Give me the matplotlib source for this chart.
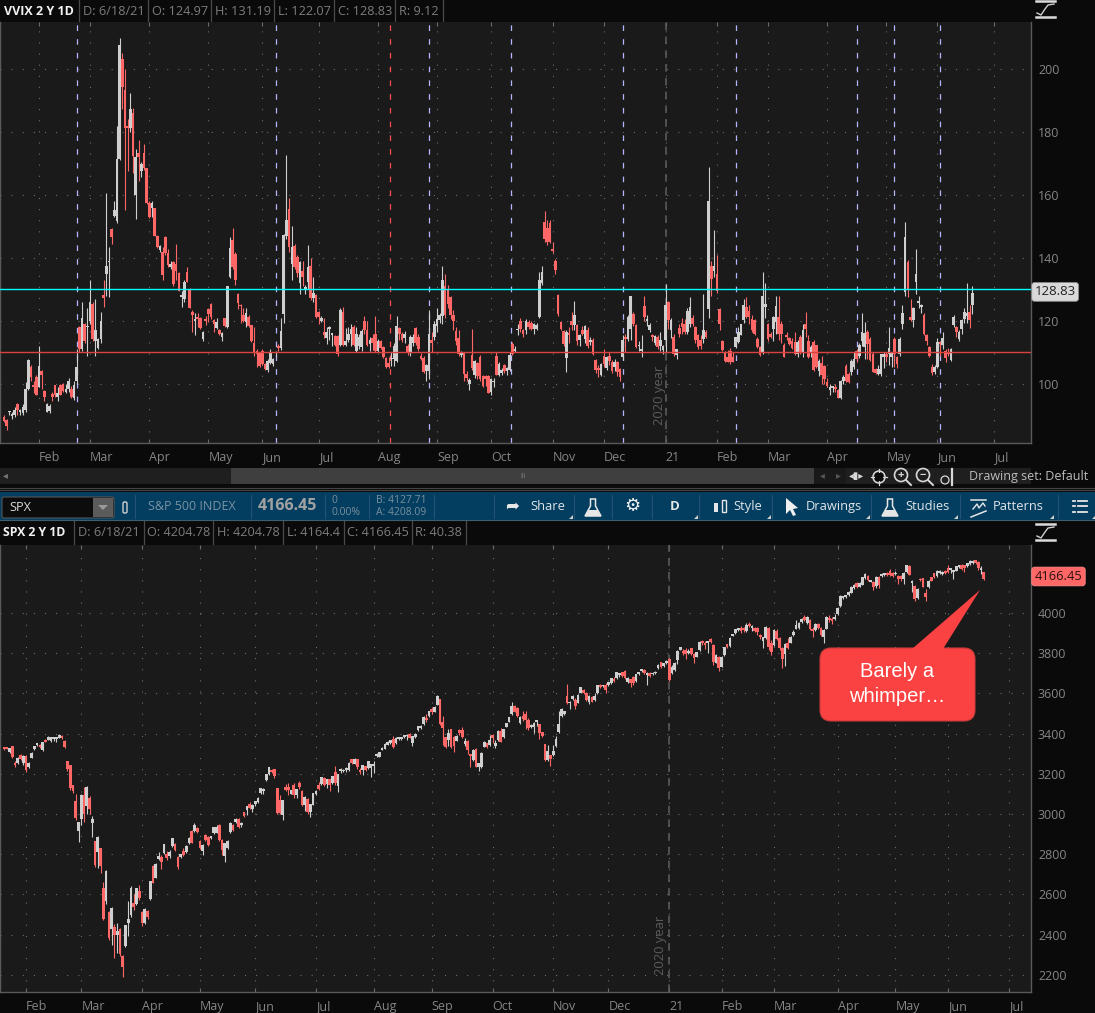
import matplotlib
matplotlib.use('Agg')
import matplotlib.pyplot as plt
from matplotlib.patches import Rectangle, Polygon, FancyBboxPatch, Circle

plt.rcParams['font.family'] = ['Open Sans', 'DejaVu Sans']

# VVIX daily candles
vvix_open = [
    89.6, 88.7, 91, 89.8, 90, 93.7, 91, 90.7, 91.8, 98.4,
    105.3, 99.7, 102.3, 99.2, 104.2, 97.7, 91.2, 91.5, 96.8, 99.7,
    96, 99.8, 100, 97.4, 98.4, 98.4, 95.5, 101, 118.2, 111,
    119, 118, 120, 125.4, 113.8, 111.3, 114.3, 128.2, 134.8, 138.6,
    149.2, 153.4, 151.6, 171.4, 203.2, 193.4, 182, 181.2, 186.1, 160.1,
    173.3, 167.7, 173.3, 168.5, 157.5, 156, 155.8, 147, 142.5, 142,
    146.7, 141.7, 137, 138.8, 138, 135.2, 127.6, 127, 135.7, 130,
    122.9, 120, 121.2, 120.8, 114.2, 120.2, 123.8, 125.4, 120.3, 117.7,
    117.1, 114.8, 120.9, 118, 134, 145.7, 141.3, 128.6, 125.2, 121.9,
    119.8, 121.2, 118.6, 112.9, 110.6, 109.7, 110.6, 106.3, 104.4, 106.6,
    106.3, 109.7, 112.2, 111.3, 122.1, 147, 155.6, 138, 143.8, 140.4,
    132, 136, 130.2, 132.5, 137.5, 127.2, 128.3, 122.9, 120.1, 116.4,
    114.6, 117.5, 115.5, 115.3, 115.3, 112.5, 123, 112.5, 114, 116,
    118.2, 110.4, 112, 111.6, 119.9, 117, 112.7, 114.5, 115.9, 110.6,
    113.5, 111.6, 108.3, 106.7, 107.8, 108, 107.2, 117.8, 115.9, 114.5,
    112.2, 110, 113, 117.8, 115, 109, 108.3, 104, 104.2, 114,
    115, 118.5, 120.2, 121.7, 131.2, 130, 127.5, 122, 116.7, 114.6,
    109.3, 109.7, 103.2, 100, 109.3, 103, 106.8, 108.7, 102.6, 102.6,
    102.6, 97.4, 100.5, 109, 103, 103.5, 106.1, 104, 104.4, 112.7,
    110.4, 117, 120, 117, 117, 119.8, 119.5, 117.5, 117.6, 121.4,
    132, 151.4, 149.5, 151.2, 142.7, 139, 128.1, 119.6, 116.7, 108.3,
    116, 120, 118.6, 118.6, 114, 117, 114.3, 117, 113.3, 114,
    107.6, 105, 103, 109, 105, 109, 106.9, 105.5, 106.9, 104.8,
    108.5, 115, 114.3, 117.5, 122.3, 118.6, 112, 110.6, 124.6, 120,
    117, 115.5, 113, 114.9, 112, 110.8, 114, 126, 117, 115,
    109.2, 117.8, 119.5, 119, 116.5, 119, 121, 118, 115.4, 114,
    114.3, 116.5, 123.7, 137.3, 135.8, 135, 123.7, 113.8, 110, 108.5,
    110.6, 108.6, 111.7, 113.3, 115.7, 120.2, 124.4, 123.3, 120.7, 120.2,
    114.3, 111.7, 110, 124.4, 118.9, 116, 117.5, 119.6, 121.4, 119,
    112.5, 115.7, 114.5, 113.6, 113.3, 109.5, 115, 110, 119, 113.8,
    109.8, 113.3, 112.3, 104.2, 106.8, 105.8, 100.5, 98, 98.8, 99.2,
    98, 95.6, 101, 105.7, 103.2, 103.7, 105.3, 110.6, 108.8, 113.5,
    111.8, 116.5, 114.3, 109.5, 104.7, 103.2, 103.2, 108.5, 109.5, 109.5,
    108.7, 114.3, 108.5, 109.5, 118.9, 129.2, 138.8, 121.4, 120.4, 132.4,
    125.7, 124.4, 122, 115.6, 111.9, 105.5, 103.7, 105.3, 113.3, 112.5,
    110.6, 110, 107.6, 118.6, 118, 114.3, 117.5, 120.7, 121.5, 122.8,
    124.97]
vvix_close = [
    88.4, 86.8, 91.2, 90.6, 91.8, 91.8, 91.6, 92.8, 98.5, 107.6,
    102.1, 99, 96.5, 105.8, 103, 96, 93.7, 93, 95.8, 96.6,
    97.1, 96.6, 97.9, 98.4, 101, 95.8, 99.8, 105.3, 111, 121,
    113.5, 118.3, 126, 114.3, 117, 114.3, 120, 127.4, 137.5, 139,
    146.8, 155.2, 171.4, 207.7, 194.4, 181.2, 181.2, 187.3, 172.5, 172.2,
    172, 169.8, 168.5, 157.5, 152.9, 157.4, 147.1, 143.6, 143.8, 134.6,
    141.7, 137.8, 138, 131.7, 136, 129.6, 127.8, 132.5, 132.5, 124.2,
    121.9, 120.3, 120.5, 117.7, 116.6, 120, 122.1, 121.2, 119, 119.6,
    115.9, 116.3, 118.5, 131.1, 143.1, 137.2, 133, 125.8, 124.6, 120,
    122.4, 118.4, 113.7, 110.2, 109.5, 105.7, 106.3, 104.7, 107.3, 110.3,
    107.9, 110, 111.4, 116.8, 147.3, 151.9, 143.4, 143.6, 137, 135.1,
    138.8, 134, 130.6, 137.2, 127.2, 128.8, 121.2, 121.2, 120.9, 115.7,
    116.6, 118.2, 115.8, 112.5, 109.5, 123.5, 112.5, 113.8, 115.9, 117.6,
    112.5, 115.9, 115, 116.9, 117.1, 112.5, 114, 113, 110.6, 113.8,
    111.4, 108.7, 105.3, 105.5, 108.4, 112, 118.5, 115.9, 114, 115.8,
    110, 114.8, 115, 112.9, 111, 107.9, 103.7, 106.1, 115.9, 113,
    119, 120.6, 122, 133, 122, 125.5, 122, 120, 113.8, 109.5,
    109.7, 103.2, 102, 101.3, 105, 107.4, 102.5, 101.6, 99.5, 101.6,
    97, 101.6, 101, 103, 106.3, 104.5, 104, 105, 109.3, 109.5,
    111, 117.3, 117.5, 115.9, 120, 118, 117.3, 119, 118.8, 133,
    135.5, 146, 145, 145.2, 142.3, 136.3, 122.3, 117.5, 112.7, 116.5,
    115.5, 118.6, 121.8, 113.8, 115.4, 116, 118.3, 112, 114, 109.6,
    104.5, 104.5, 106.4, 106.4, 108.7, 107.2, 104, 107, 103.7, 102.1,
    114, 114.3, 121.2, 127.8, 118.9, 111.9, 112.5, 110.8, 121.4, 120.7,
    118.6, 115, 115.2, 111.7, 114, 112.2, 125, 120.2, 120.2, 109.6,
    111, 115.9, 118, 116.5, 123.1, 124.4, 119, 114, 111.7, 112,
    117, 115, 158.2, 133.2, 137.3, 129.5, 119, 110.8, 107.4, 106.9,
    106.9, 106.9, 115, 116.5, 118.9, 125, 121.2, 121.2, 117, 116,
    111.7, 109.3, 128, 125.3, 114.3, 115, 121.2, 124.9, 115.8, 115.8,
    108.5, 114.8, 112.8, 111.5, 109.5, 113.3, 109.7, 117, 117.5, 108.5,
    111.7, 104.3, 105.5, 107.4, 103, 101.5, 99.5, 99, 99.2, 98.5,
    95.6, 100.8, 102.1, 101, 100.5, 107.4, 108, 108, 112.3, 116.6,
    116.3, 112.7, 107.6, 103.9, 103.4, 104.8, 109.4, 109.6, 108.7, 111.4,
    109.8, 109.5, 106.3, 114.3, 122.5, 146.5, 130.2, 120.4, 124.2, 134.8,
    126.5, 125, 116, 113.6, 109, 103.4, 105.3, 113.3, 112.7, 114.5,
    108.3, 109.5, 111, 121.2, 116.5, 116.5, 120.2, 122.8, 122.5, 120.4,
    128.83]
vvix_high = [
    90, 89, 91.5, 91, 92.6, 94, 92, 93.5, 100.6, 108,
    106, 101, 103, 112, 104.5, 98, 94, 93.5, 97.5, 99.8,
    99, 100, 100.4, 100, 102, 99.5, 101, 111, 118.5, 126,
    119.5, 124, 133, 126, 127, 114.5, 123, 133, 160.6, 143.5,
    149.5, 158, 182, 209.8, 205, 200, 184, 192.4, 187.6, 174.6,
    177.5, 170.4, 176.2, 168.7, 158, 158, 156, 147.2, 144, 143.5,
    147, 143, 139, 139, 144.5, 135.5, 129.5, 133, 137, 130.5,
    123.5, 122.5, 122.5, 121.3, 116.9, 121.5, 124, 125.7, 120.5, 121,
    117.4, 116.6, 121, 131.1, 146.6, 149.5, 142, 129, 125.4, 124,
    124, 122, 118.8, 118, 111, 110, 111, 106.6, 108, 111,
    108.2, 110.6, 112.6, 121, 147.5, 172.7, 159, 150, 144.3, 141,
    139, 139, 131.5, 144, 140, 134, 128.6, 123.2, 121.5, 121,
    118, 118.5, 116, 115.6, 115.6, 124, 124.5, 117.7, 118, 119,
    118.8, 118, 116, 117.5, 121.5, 120, 115, 116, 121.5, 114.3,
    114, 112, 108.6, 108.5, 110, 113, 121.5, 118, 116.5, 116.8,
    112.6, 115.5, 116, 118, 116, 109.8, 108.8, 106.5, 123.5, 116.5,
    120, 124, 122.5, 137.6, 135, 131.5, 128, 123.5, 118, 117,
    110.5, 110, 104, 101.8, 117.5, 107.6, 107, 109.3, 103, 103,
    103, 102, 102, 110, 107, 105, 106.5, 105.5, 110, 113.2,
    112, 119, 120.8, 117.3, 120.5, 120.3, 120, 119.3, 119.5, 135.4,
    137.6, 155, 152, 152, 145, 139.6, 128.5, 120, 117, 117,
    118, 123, 126.5, 119, 116, 118.5, 118.8, 118, 115, 114.5,
    108, 106, 106.8, 111.2, 109, 110, 107.5, 108, 107.4, 105,
    115.5, 116, 122, 128, 122.8, 119, 113.5, 115.5, 127.8, 122,
    119.5, 116, 115.5, 115.5, 116.5, 112.5, 131.6, 126.5, 121, 116,
    111.2, 119, 121, 120.5, 124, 127.5, 122, 118.5, 116, 115.5,
    128.5, 117, 169, 139, 148.8, 141, 124, 114, 110.5, 110.8,
    111.5, 110, 115, 118, 119.2, 127, 127.5, 125, 122, 120.5,
    115, 112, 135.6, 132, 119.5, 116.5, 121.5, 128, 128, 120,
    113, 116.5, 115, 114.5, 116.5, 114, 115.5, 119, 123, 115.5,
    112.5, 114, 112.5, 108, 109, 106, 102, 100, 99.5, 100,
    98.5, 101.2, 103, 106.5, 103.7, 108, 110, 111, 113, 122.5,
    119.8, 117, 114.8, 110, 105, 106, 109.5, 110.3, 110, 118,
    110, 114.8, 109, 115, 125, 151.5, 139.5, 127, 124.5, 143,
    128, 125.5, 122.5, 116, 112, 106.2, 106, 114.5, 113.8, 116.5,
    111, 111.5, 111.3, 122, 118.5, 117, 120.5, 124, 132, 125,
    131.19]
vvix_low = [
    88, 85.4, 90, 89, 89.5, 90, 90, 90, 91, 98,
    101, 97, 96.5, 99, 98.5, 94.5, 91, 90.8, 94.5, 96,
    94.5, 96.4, 97.5, 97, 97.5, 95.5, 95, 100, 110, 110.5,
    113, 109, 119, 113.5, 109, 111, 113, 124.5, 128, 127.6,
    144.5, 153, 151, 171, 187.3, 155.2, 167.7, 180, 167, 152.4,
    164.5, 165.6, 168, 157, 152.7, 153, 147, 143.3, 142, 133,
    141, 137, 136.5, 131, 133, 129.5, 124.5, 126, 132.3, 124,
    116.6, 115.6, 118, 117.5, 113.8, 118.7, 119.7, 120.5, 116.5, 117.3,
    115.4, 113.6, 118, 117.8, 133.5, 136.5, 131.4, 123.8, 119.5, 119.6,
    118, 118, 113.4, 109, 105.5, 105.5, 106, 104.4, 103.9, 106.2,
    105.8, 108.6, 110.5, 110.8, 119.4, 146, 142, 133, 136.4, 134,
    128.7, 131, 128.5, 130, 126.8, 126, 120.8, 119, 119.6, 114.5,
    112.6, 114, 112, 112, 109, 112, 112, 112, 113.4, 112,
    112, 110, 111, 110.5, 116, 112, 110.5, 110.7, 110.3, 110,
    111, 108.4, 105, 105, 105.8, 105.8, 107, 114, 113.2, 113,
    109.2, 109, 112, 112.5, 110.5, 107.5, 103.5, 101, 101.5, 110,
    114, 116.5, 119.5, 119, 121, 124, 120.5, 117, 112.5, 109,
    108.5, 101, 101, 98.2, 104.5, 102, 101.5, 101, 99, 99.5,
    97, 96.5, 99, 103, 102.5, 103, 103.5, 103, 104, 109.2,
    110, 115.5, 116.5, 115, 116, 117.5, 117, 116, 117, 121,
    131.5, 145, 144, 144.8, 141.6, 135, 121.5, 117, 112, 103.8,
    113, 117, 117, 112.5, 112, 115.5, 113, 111.5, 112.5, 109.2,
    103.5, 102.3, 102.5, 105.5, 104.5, 106, 103.5, 104, 102.5, 100.8,
    107.5, 110.3, 113.5, 114, 118.5, 111.5, 110.5, 108.5, 120, 118.5,
    116.5, 113.8, 112.5, 111, 110.5, 109.5, 110, 117.5, 114.5, 109,
    107.8, 115, 116, 116, 116, 118, 118.5, 113, 111, 111.2,
    113, 114.5, 121, 128, 134, 129, 117, 110.5, 107, 107,
    106.5, 106.9, 111.4, 113, 115.5, 119.5, 121, 119, 116.5, 115.5,
    111.5, 109, 109.5, 121, 113.8, 114.5, 113.5, 116, 114, 113,
    108.5, 114, 112.5, 111, 109.2, 108.5, 109.5, 108.5, 115, 108.2,
    108.5, 104, 105, 102.5, 100, 100, 99, 96.5, 97.5, 97.5,
    95.5, 95.3, 100, 100.5, 100.2, 103, 104.8, 107, 108.2, 112,
    108, 108, 107.3, 103.8, 103.2, 102.8, 102.6, 105, 107, 106,
    105.5, 105.3, 105.2, 109, 117.5, 128, 127.5, 120, 118, 128.5,
    124, 122.5, 115.5, 112.5, 108.5, 102.8, 103.2, 105, 109, 111,
    107, 109, 107.3, 118, 115, 113.5, 116, 119.5, 119.5, 117.8,
    122.07]

# SPX daily candles
spx_open = [
    3332, 3330, 3310, 3338, 3255, 3255, 3293, 3252, 3289, 3236,
    3279, 3322, 3342, 3345, 3318, 3368, 3368, 3365, 3374, 3374,
    3380, 3388, 3363, 3262, 3245, 3144, 3065, 2915, 2975, 3095,
    3042, 3080, 2954, 2866, 2812, 2830, 2633, 2567, 2515, 2427,
    2440, 2398, 2430, 2295, 2345, 2460, 2497, 2560, 2555, 2617,
    2515, 2460, 2518, 2578, 2740, 2683, 2775, 2785, 2808, 2800,
    2790, 2840, 2850, 2785, 2785, 2817, 2813, 2858, 2917, 2917,
    2933, 2868, 2818, 2895, 2888, 2880, 2904, 2907, 2945, 2871,
    2791, 2830, 2913, 2945, 2962, 2974, 2945, 3010, 3020, 3050,
    3027, 3050, 3062, 3105, 3115, 3168, 3200, 3220, 3222, 3128,
    3072, 2995, 3135, 3135, 3100, 3145, 3097, 3156, 3117, 3047,
    3075, 3008, 3047, 3100, 3145, 3150, 3180, 3150, 3172, 3153,
    3208, 3138, 3213, 3212, 3218, 3220, 3272, 3250, 3272, 3220,
    3217, 3237, 3228, 3228, 3240, 3287, 3285, 3320, 3325, 3345,
    3352, 3372, 3355, 3372, 3374, 3384, 3386, 3400, 3355, 3383,
    3417, 3430, 3447, 3480, 3490, 3520, 3509, 3542, 3570, 3459,
    3381, 3368, 3421, 3385, 3365, 3418, 3418, 3348, 3365, 3295,
    3268, 3323, 3232, 3235, 3335, 3351, 3343, 3392, 3338, 3368,
    3413, 3384, 3434, 3459, 3497, 3537, 3525, 3451, 3487, 3500,
    3470, 3435, 3435, 3460, 3447, 3408, 3348, 3268, 3293, 3293,
    3338, 3409, 3487, 3500, 3587, 3550, 3570, 3567, 3554, 3603,
    3617, 3600, 3558, 3580, 3565, 3600, 3640, 3635, 3640, 3640,
    3650, 3670, 3675, 3690, 3704, 3711, 3658, 3670, 3680, 3660,
    3695, 3710, 3718, 3690, 3700, 3695, 3700, 3724, 3755, 3735,
    3750, 3771, 3700, 3716, 3766, 3816, 3813, 3816, 3800, 3824,
    3796, 3783, 3816, 3860, 3852, 3852, 3870, 3841, 3753, 3780,
    3733, 3791, 3844, 3836, 3885, 3899, 3915, 3927, 3925, 3912,
    3945, 3925, 3925, 3927, 3890, 3860, 3874, 3924, 3849, 3841,
    3912, 3874, 3824, 3796, 3849, 3852, 3890, 3920, 3924, 3955,
    3982, 3949, 3965, 3922, 3915, 3945, 3924, 3879, 3920, 3975,
    3970, 3970, 3995, 4035, 4075, 4078, 4090, 4100, 4125, 4151,
    4131, 4140, 4172, 4184, 4156, 4156, 4134, 4180, 4184, 4188,
    4200, 4210, 4200, 4192, 4184, 4184, 4168, 4205, 4233, 4150,
    4134, 4073, 4170, 4172, 4101, 4128, 4177, 4197, 4184, 4200,
    4195, 4210, 4222, 4213, 4205, 4210, 4230, 4238, 4238, 4233,
    4243, 4250, 4263, 4255, 4215, 4204.78]
spx_close = [
    3322, 3325, 3326, 3285, 3244, 3279, 3274, 3289, 3219, 3255,
    3305, 3338, 3348, 3333, 3356, 3358, 3385, 3382, 3378, 3376,
    3395, 3378, 3335, 3222, 3128, 3115, 2982, 2958, 3095, 3000,
    3136, 3025, 2975, 2747, 2884, 2742, 2480, 2717, 2382, 2535,
    2400, 2420, 2305, 2237, 2447, 2476, 2630, 2540, 2630, 2583,
    2460, 2528, 2487, 2667, 2658, 2750, 2792, 2762, 2850, 2783,
    2812, 2879, 2821, 2738, 2800, 2795, 2842, 2882, 2858, 2945,
    2912, 2830, 2845, 2870, 2845, 2888, 2934, 2937, 2871, 2821,
    2854, 2868, 2957, 2922, 2974, 2937, 2957, 2990, 3040, 3030,
    3044, 3063, 3080, 3130, 3118, 3200, 3235, 3208, 3190, 3004,
    3004, 3072, 3122, 3118, 3120, 3095, 3125, 3133, 3047, 3087,
    3008, 3050, 3103, 3117, 3125, 3183, 3145, 3172, 3142, 3187,
    3153, 3197, 3217, 3220, 3224, 3255, 3255, 3275, 3233, 3208,
    3242, 3217, 3262, 3247, 3245, 3300, 3308, 3330, 3350, 3358,
    3366, 3333, 3380, 3380, 3382, 3388, 3392, 3380, 3387, 3400,
    3437, 3440, 3484, 3470, 3510, 3505, 3534, 3587, 3450, 3426,
    3331, 3401, 3335, 3338, 3388, 3405, 3384, 3365, 3318, 3290,
    3318, 3235, 3252, 3305, 3360, 3331, 3368, 3378, 3355, 3413,
    3360, 3421, 3451, 3481, 3537, 3509, 3487, 3484, 3475, 3470,
    3426, 3440, 3455, 3465, 3404, 3388, 3268, 3315, 3272, 3315,
    3371, 3447, 3520, 3510, 3550, 3558, 3585, 3537, 3592, 3630,
    3600, 3567, 3587, 3558, 3585, 3640, 3632, 3640, 3615, 3655,
    3675, 3660, 3704, 3700, 3685, 3675, 3675, 3650, 3650, 3695,
    3705, 3718, 3702, 3702, 3685, 3702, 3706, 3740, 3730, 3750,
    3760, 3667, 3733, 3750, 3813, 3829, 3800, 3796, 3812, 3796,
    3775, 3804, 3857, 3850, 3841, 3858, 3854, 3758, 3791, 3725,
    3783, 3829, 3829, 3877, 3892, 3919, 3922, 3910, 3917, 3940,
    3935, 3935, 3912, 3907, 3878, 3878, 3932, 3833, 3808, 3915,
    3871, 3824, 3771, 3846, 3824, 3882, 3907, 3940, 3949, 3970,
    3965, 3982, 3919, 3910, 3945, 3924, 3890, 3915, 3982, 3965,
    3958, 3978, 4027, 4085, 4081, 4084, 4106, 4131, 4141, 4131,
    4148, 4177, 4194, 4164, 4161, 4131, 4180, 4140, 4194, 4194,
    4188, 4189, 4184, 4200, 4168, 4168, 4197, 4238, 4190, 4157,
    4068, 4118, 4162, 4131, 4078, 4161, 4161, 4177, 4210, 4208,
    4205, 4200, 4205, 4218, 4208, 4233, 4238, 4217, 4222, 4247,
    4259, 4260, 4250, 4222, 4219, 4166.45]
spx_high = [
    3335, 3335, 3330, 3340, 3262, 3282, 3298, 3292, 3292, 3258,
    3310, 3340, 3352, 3350, 3358, 3372, 3387, 3385, 3380, 3385,
    3398, 3392, 3368, 3262, 3246, 3146, 3098, 2960, 3100, 3135,
    3138, 3088, 2988, 2868, 2890, 2832, 2660, 2720, 2520, 2540,
    2455, 2460, 2435, 2298, 2447, 2570, 2640, 2600, 2632, 2645,
    2520, 2535, 2522, 2667, 2745, 2755, 2810, 2795, 2852, 2815,
    2820, 2882, 2855, 2790, 2802, 2830, 2845, 2888, 2920, 2955,
    2936, 2872, 2850, 2900, 2892, 2892, 2936, 2945, 2950, 2875,
    2855, 2870, 2960, 2950, 2978, 2978, 2960, 3012, 3042, 3060,
    3048, 3067, 3085, 3130, 3128, 3200, 3235, 3222, 3226, 3130,
    3095, 3072, 3150, 3155, 3122, 3155, 3127, 3165, 3120, 3088,
    3080, 3052, 3103, 3118, 3160, 3183, 3185, 3175, 3175, 3190,
    3240, 3198, 3230, 3225, 3232, 3258, 3275, 3280, 3275, 3228,
    3245, 3240, 3265, 3250, 3265, 3305, 3310, 3332, 3352, 3362,
    3370, 3388, 3382, 3385, 3385, 3390, 3398, 3402, 3390, 3402,
    3440, 3445, 3486, 3500, 3513, 3530, 3538, 3590, 3572, 3490,
    3385, 3425, 3425, 3390, 3392, 3425, 3432, 3378, 3368, 3298,
    3322, 3326, 3255, 3308, 3362, 3355, 3392, 3396, 3370, 3416,
    3430, 3424, 3453, 3483, 3555, 3540, 3530, 3487, 3510, 3510,
    3478, 3450, 3460, 3467, 3450, 3410, 3350, 3345, 3296, 3345,
    3390, 3510, 3525, 3512, 3645, 3560, 3590, 3578, 3595, 3632,
    3622, 3605, 3590, 3585, 3600, 3643, 3645, 3642, 3650, 3658,
    3678, 3680, 3706, 3702, 3708, 3715, 3680, 3672, 3685, 3698,
    3708, 3722, 3722, 3705, 3705, 3704, 3710, 3745, 3758, 3752,
    3765, 3775, 3740, 3755, 3818, 3832, 3820, 3825, 3820, 3827,
    3800, 3807, 3860, 3868, 3860, 3862, 3875, 3845, 3795, 3785,
    3788, 3832, 3848, 3880, 3895, 3922, 3925, 3935, 3930, 3950,
    3955, 3940, 3928, 3932, 3895, 3882, 3935, 3930, 3865, 3918,
    3920, 3880, 3830, 3850, 3875, 3885, 3915, 3965, 3955, 3975,
    3990, 3985, 3970, 3930, 3948, 3950, 3928, 3918, 3985, 3990,
    3980, 3995, 4030, 4088, 4085, 4088, 4110, 4135, 4145, 4155,
    4152, 4180, 4198, 4188, 4165, 4160, 4183, 4184, 4197, 4196,
    4205, 4218, 4205, 4210, 4188, 4190, 4205, 4240, 4238, 4165,
    4140, 4122, 4175, 4175, 4120, 4165, 4180, 4200, 4215, 4212,
    4208, 4215, 4240, 4222, 4215, 4236, 4240, 4242, 4240, 4250,
    4262, 4264, 4265, 4258, 4235, 4204.78]
spx_low = [
    3318, 3322, 3305, 3280, 3235, 3250, 3270, 3245, 3208, 3230,
    3278, 3320, 3336, 3328, 3316, 3356, 3366, 3360, 3365, 3356,
    3378, 3375, 3330, 3212, 3118, 3105, 2972, 2860, 2945, 2960,
    3000, 3000, 2885, 2735, 2730, 2708, 2475, 2555, 2375, 2350,
    2285, 2310, 2295, 2192, 2340, 2395, 2490, 2525, 2550, 2575,
    2445, 2455, 2480, 2574, 2655, 2680, 2770, 2725, 2800, 2770,
    2780, 2835, 2815, 2725, 2780, 2790, 2805, 2852, 2855, 2912,
    2905, 2825, 2795, 2865, 2840, 2876, 2900, 2905, 2868, 2795,
    2762, 2825, 2908, 2915, 2955, 2932, 2935, 2985, 2995, 3025,
    3010, 3040, 3055, 3100, 3100, 3162, 3195, 3205, 3180, 3002,
    3000, 2970, 3115, 3095, 3098, 3080, 3080, 3125, 3040, 3015,
    3000, 2985, 3045, 3095, 3120, 3146, 3140, 3130, 3115, 3150,
    3145, 3112, 3205, 3208, 3208, 3215, 3250, 3248, 3225, 3200,
    3195, 3215, 3225, 3185, 3205, 3285, 3282, 3318, 3322, 3342,
    3350, 3330, 3350, 3368, 3370, 3380, 3370, 3378, 3338, 3380,
    3412, 3425, 3444, 3460, 3485, 3500, 3505, 3540, 3445, 3345,
    3328, 3340, 3330, 3310, 3362, 3395, 3380, 3340, 3300, 3236,
    3265, 3232, 3215, 3230, 3332, 3328, 3340, 3355, 3328, 3365,
    3358, 3380, 3432, 3457, 3495, 3506, 3484, 3448, 3465, 3425,
    3420, 3430, 3405, 3440, 3375, 3385, 3265, 3265, 3240, 3290,
    3335, 3405, 3485, 3495, 3545, 3520, 3565, 3520, 3552, 3600,
    3595, 3563, 3545, 3555, 3560, 3598, 3628, 3630, 3600, 3636,
    3648, 3655, 3672, 3680, 3680, 3672, 3650, 3630, 3640, 3655,
    3690, 3705, 3695, 3640, 3680, 3692, 3695, 3720, 3725, 3730,
    3745, 3660, 3695, 3712, 3745, 3814, 3790, 3770, 3795, 3793,
    3750, 3780, 3812, 3840, 3820, 3800, 3850, 3740, 3750, 3710,
    3730, 3788, 3825, 3833, 3883, 3897, 3910, 3900, 3905, 3905,
    3930, 3910, 3905, 3890, 3870, 3825, 3870, 3815, 3790, 3835,
    3868, 3815, 3725, 3735, 3820, 3850, 3885, 3918, 3920, 3950,
    3960, 3945, 3915, 3880, 3910, 3920, 3885, 3850, 3918, 3955,
    3945, 3965, 3992, 4032, 4070, 4074, 4086, 4097, 4120, 4125,
    4128, 4138, 4170, 4160, 4152, 4115, 4125, 4125, 4180, 4185,
    4182, 4185, 4180, 4188, 4145, 4160, 4145, 4200, 4188, 4105,
    4060, 4070, 4158, 4128, 4060, 4125, 4158, 4172, 4180, 4195,
    4190, 4195, 4200, 4200, 4170, 4208, 4225, 4212, 4205, 4230,
    4240, 4245, 4245, 4215, 4195, 4164.4]

month_labels = ['Feb', 'Mar', 'Apr', 'May', 'Jun', 'Jul', 'Aug', 'Sep', 'Oct', 'Nov',
                'Dec', '21', 'Feb', 'Mar', 'Apr', 'May', 'Jun', 'Jul']
vvix_month_bars = [13, 32, 54, 76, 96, 117, 139, 161, 181, 204, 223, 246, 265, 284, 306, 328, 347, 368]
spx_month_bars = [8, 28, 50, 71, 91, 113, 134, 155, 177, 199, 219, 241, 260, 279, 302, 323, 342, 364]
vvix_event_bars = [27, 101, 158, 188.5, 230, 272, 317, 331, 348]
vvix_red_event_bar = 143.5
vvix_year_bar = 246
spx_year_bar = 241
vvix_ticks = [100, 120, 140, 160, 180, 200]
spx_ticks = [2200, 2400, 2600, 2800, 3000, 3200, 3400, 3600, 3800, 4000]
vvix_cyan_level = 130.3
vvix_red_level = 110.3

UP = '#cfcfcf'
DOWN = '#ff6666'
PANEL = '#1a1a1a'
CHROME = '#0a0a0a'
BLUE = '#033d5f'
W, H = 1095, 1013

fig = plt.figure(figsize=(W / 100, H / 100), dpi=100, facecolor=CHROME)

# chrome layer works in image pixels
bg = fig.add_axes([0, 0, 1, 1], zorder=0)
bg.set_xlim(0, W)
bg.set_ylim(H, 0)
bg.axis('off')


def rect(x0, y0, x1, y1, color, ax=bg, z=1):
    ax.add_patch(Rectangle((x0, y0), x1 - x0, y1 - y0, facecolor=color, edgecolor='none', zorder=z))


def label(x, y, s, color='#7f7f7f', size=9, weight='normal', ha='left', ax=bg, **kw):
    ax.text(x, y, s, color=color, fontsize=size, fontweight=weight, ha=ha, va='center', zorder=5, **kw)


def candles(ax, opens, highs, lows, closes):
    xs = range(len(opens))
    for x, o, h, l, c in zip(xs, opens, highs, lows, closes):
        col = UP if c >= o else DOWN
        ax.vlines(x, l, h, color=col, lw=0.8, zorder=3)
        ax.bar(x, max(abs(c - o), (ax.get_ylim()[1] - ax.get_ylim()[0]) * 0.004), bottom=min(o, c),
               width=0.98, color=col, linewidth=0, zorder=4)


def style_axes(ax, month_bars, yticks, year_bar):
    ax.set_facecolor(PANEL)
    ax.set_xticks(month_bars)
    ax.set_xticklabels(month_labels, ha='left')
    ax.set_yticks(yticks)
    ax.yaxis.tick_right()
    ax.tick_params(axis='x', colors='#6a6a6a', labelcolor='#858585', labelsize=9, length=3,
                   direction='in', top=True, pad=6, width=0.8)
    ax.tick_params(axis='y', labelcolor='#858585', labelsize=9, length=0, pad=5)
    ax.grid(True, color='#6e6e6e', linewidth=0.8, linestyle=(0, (1, 9)))
    ax.set_axisbelow(True)
    for s in ['left', 'right', 'bottom', 'top']:
        ax.spines[s].set_color('#5a5a5a')
        ax.spines[s].set_linewidth(1)
    ax.spines['top'].set_visible(False)
    ax.axvline(year_bar, color='#5f5f5f', lw=1.1, linestyle=(0, (5, 4)), zorder=2)


# top chart: 2.69 px per bar, bar 0 at x=4
ax1 = fig.add_axes([0, 1 - 443 / H, 1031 / W, 421 / H], zorder=2)
ax1.set_xlim(-4 / 2.69, 1027 / 2.69)
ax1.set_ylim(81.27, 214.9)
style_axes(ax1, vvix_month_bars, vvix_ticks, vvix_year_bar)
for b in vvix_event_bars:
    ax1.axvline(b, color='#b4b4ff', lw=0.9, linestyle=(0, (4.5, 6.5)), zorder=2)
ax1.axvline(vvix_red_event_bar, color='#ff4d4d', lw=0.9, linestyle=(0, (4.5, 6.5)), zorder=2)
candles(ax1, vvix_open, vvix_high, vvix_low, vvix_close)
ax1.axhline(vvix_cyan_level, color='#00ffff', lw=1.0, zorder=6)
ax1.axhline(vvix_red_level, color='#d9433f', lw=1.0, zorder=6)
ax1.text(243.5, 87, '2020 year', color='#5c5c5c', fontsize=9.3, rotation=90, ha='center', va='bottom', zorder=2)
ax1.text(1.0035, vvix_close[-1] + 0.4, '128.83', transform=ax1.get_yaxis_transform(), color='#222222',
         fontsize=9.5, va='center', ha='left', zorder=8, clip_on=False,
         bbox=dict(boxstyle='round,pad=0.22', facecolor='#d9d9d9', edgecolor='#888888', linewidth=0.6))

# bottom chart: 2.76 px per bar, bar 0 at x=4
ax2 = fig.add_axes([0, 1 - 992 / H, 1031 / W, 447 / H], zorder=2)
ax2.set_xlim(-4 / 2.76, 1027 / 2.76)
ax2.set_ylim(2115, 4338)
style_axes(ax2, spx_month_bars, spx_ticks, spx_year_bar)
candles(ax2, spx_open, spx_high, spx_low, spx_close)
ax2.text(238, 2200, '2020 year', color='#5c5c5c', fontsize=9.3, rotation=90, ha='center', va='bottom', zorder=2)
ax2.text(1.0035, spx_close[-1] + 15, '4166.45', transform=ax2.get_yaxis_transform(), color='#2a1010',
         fontsize=9.3, va='center', ha='left', zorder=8, clip_on=False,
         bbox=dict(boxstyle='round,pad=0.22', facecolor='#ff6666', edgecolor='#ff8888', linewidth=0.6))

# header strips
label(4, 11, 'VVIX 2 Y 1D', color='#f2f2f2', size=9, weight='bold')
for x in [79, 148, 211, 274, 334, 395, 443]:
    bg.plot([x, x], [0, 21], color='#4a4a4a', lw=0.9, zorder=2)
for x, s in zip([83, 152, 215, 278, 338, 399],
                ['D: 6/18/21', 'O: 124.97', 'H: 131.19', 'L: 122.07', 'C: 128.83', 'R: 9.12']):
    label(x, 11, s, color='#7c7c7c', size=9.2)
label(3, 532, 'SPX 2 Y 1D', color='#f2f2f2', size=8.8, weight='bold')
for x in [74, 144, 213, 283, 344, 412, 466]:
    bg.plot([x, x], [521, 544], color='#4a4a4a', lw=0.9, zorder=2)
for x, s in zip([78, 147, 217, 287, 347, 415],
                ['D: 6/18/21', 'O: 4204.78', 'H: 4204.78', 'L: 4164.4', 'C: 4166.45', 'R: 40.38']):
    label(x, 532, s, color='#7c7c7c', size=9.2)


def curve_icon(y):
    bg.plot([1036, 1055], [y, y], color='#dcdcdc', lw=1.8, zorder=3)
    bg.plot([1036, 1055], [y + 16, y + 16], color='#dcdcdc', lw=1.8, zorder=3)
    bg.plot([1037, 1041, 1045, 1048, 1054], [y + 12, y + 14, y + 8, y + 4, y + 3], color='#cfcfcf', lw=1, zorder=3)


curve_icon(1)
curve_icon(524)

# scrollbar row
rect(0, 468, 1031, 484, '#1f1f1f')
rect(231, 468, 814, 484, '#3f3f3f')
rect(814, 468, 846, 484, '#191919')
label(5, 476, '◂', color='#777777', size=7, ha='center')
label(523, 476, 'III', color='#777777', size=5, ha='center')
label(822, 476, '◂', color='#555555', size=7, ha='center')
label(838, 476, '▸', color='#555555', size=7, ha='center')
label(857, 476, '◂▮▸', color='#d8d8d8', size=7, ha='center')
bg.add_patch(Circle((879, 477), 6, fill=False, edgecolor='#d8d8d8', lw=1.1, zorder=3))
bg.plot([879, 879], [469, 485], color='#d8d8d8', lw=0.9, zorder=2)
bg.plot([871, 887], [477, 477], color='#d8d8d8', lw=0.9, zorder=2)
rect(875, 473, 883, 481, '#0a0a0a', z=2.5)
for cx, sym in [(901, '+'), (923, '−')]:
    bg.add_patch(Circle((cx, 475), 6.5, fill=False, edgecolor='#d8d8d8', lw=1.2, zorder=3))
    bg.plot([cx + 5, cx + 10], [480, 485], color='#d8d8d8', lw=1.4, zorder=3)
    label(cx, 475, sym, color='#d8d8d8', size=8, ha='center', weight='bold')
bg.add_patch(Circle((945, 480), 4, fill=False, edgecolor='#d8d8d8', lw=0.9, zorder=3))
bg.plot([952, 952], [469, 485], color='#d8d8d8', lw=1.6, zorder=3)
label(969, 476, 'Drawing set: Default', color='#bdbdbd', size=9)
bg.plot([0, W], [488, 488], color='#444444', lw=0.8, zorder=2)
bg.plot([0, W], [490, 490], color='#444444', lw=0.8, zorder=2)

# blue toolbar
rect(0, 492, W, 520, BLUE)
bg.plot([0, W], [520, 520], color='#3f5c70', lw=0.8, zorder=2)
bg.add_patch(FancyBboxPatch((2, 497), 112, 21, boxstyle='round,pad=0,rounding_size=2', facecolor='#0c0c0c',
                            edgecolor='#555555', lw=0.8, zorder=2))
rect(93, 498, 113, 517, '#5b5b5b', z=3)
bg.add_patch(Polygon([[98, 505], [108, 505], [103, 510]], facecolor='#9a9a9a', zorder=4))
label(9, 507, 'SPX', color='#d8d8d8', size=9.2)
bg.add_patch(FancyBboxPatch((123, 502), 4, 11, boxstyle='round,pad=0,rounding_size=1.5', fill=False,
                            edgecolor='#cfcfcf', lw=1, zorder=3))
for x in [135, 251, 325, 369, 434, 494, 574, 612, 652, 699, 772, 871, 960, 1058]:
    bg.plot([x, x], [495, 518], color='#225373', lw=0.8, zorder=2)
label(148, 506, 'S&P 500 INDEX', color='#7a92a3', size=9)
label(258, 506, '4166.45', color='#a2a2a2', size=11.5, weight='bold')
label(332, 500, '0', color='#7a8f9e', size=7.5)
label(332, 512, '0.00%', color='#7a8f9e', size=7.5)
label(376, 500, 'B: 4127.71', color='#7a8f9e', size=7.5)
label(376, 512, 'A: 4208.09', color='#7a8f9e', size=7.5)
label(505, 506, '➦', color='#e6e6e6', size=12, family='DejaVu Sans')
label(530, 506, 'Share', color='#dfe6ea', size=9.3)


def flask(cx):
    bg.add_patch(Polygon([[cx - 2.5, 499], [cx + 2.5, 499], [cx + 2.5, 506], [cx + 8, 516], [cx - 8, 516], [cx - 2.5, 506]],
                         facecolor=BLUE, edgecolor='#e6e6e6', lw=1.1, zorder=3))
    bg.add_patch(Polygon([[cx - 4.5, 510], [cx + 4.5, 510], [cx + 8, 516], [cx - 8, 516]], facecolor='#e6e6e6', zorder=4))


flask(593)
label(632, 506, '⚙', color='#f0f0f0', size=13, ha='center', family='DejaVu Sans')
label(675, 506, 'D', color='#e6e6e6', size=9.5, weight='bold', ha='center')
rect(714, 503, 718, 512, '#e6e6e6', z=3)
bg.add_patch(Rectangle((722, 500), 4, 12, fill=False, edgecolor='#e6e6e6', lw=1, zorder=3))
label(733, 506, 'Style', color='#dfe6ea', size=9.3)
bg.add_patch(Polygon([[786, 498], [798, 508], [793, 509], [796, 515], [793, 516], [790, 510], [786, 514]],
                     facecolor='#f0f0f0', zorder=3))
label(806, 506, 'Drawings', color='#dfe6ea', size=9.3)
flask(890)
label(905, 506, 'Studies', color='#dfe6ea', size=9.3)
bg.plot([971, 986], [500, 500], color='#e6e6e6', lw=1.1, zorder=3)
bg.plot([973, 977, 979, 983, 985], [509, 504, 508, 503, 506], color='#e6e6e6', lw=1, zorder=3)
bg.plot([971, 986], [517, 511], color='#e6e6e6', lw=1.1, zorder=3)
label(993, 506, 'Patterns', color='#dfe6ea', size=9.3)
for y in [501, 506, 512]:
    bg.plot([1073, 1075], [y, y], color='#e6e6e6', lw=1.3, zorder=3)
    bg.plot([1078, 1087], [y, y], color='#e6e6e6', lw=1.3, zorder=3)
for x in [569, 694, 767, 866, 954, 1050, 1092]:
    bg.add_patch(Polygon([[x, 519], [x + 4, 519], [x + 4, 515]], facecolor='#d0d0d0', zorder=3))

# callout on top of the lower chart
fg = fig.add_axes([0, 0, 1, 1], zorder=6, facecolor='none')
fg.set_xlim(0, W)
fg.set_ylim(H, 0)
fg.axis('off')
RED = '#fb4242'
fg.add_patch(FancyBboxPatch((820, 648), 155, 73, boxstyle='round,pad=0,rounding_size=11',
                            facecolor=RED, edgecolor='#c93a3a', lw=0.8, zorder=1))
fg.add_patch(Polygon([[912, 649], [980, 590], [943, 649]], facecolor=RED, edgecolor='none', zorder=2))
fg.text(897, 671, 'Barely a', color='white', fontsize=14.5, family='Liberation Sans', ha='center', va='center', zorder=3)
fg.text(897, 696, 'whimper…', color='white', fontsize=14.5, family='Liberation Sans', ha='center', va='center', zorder=3)

fig.savefig('out.png', dpi=100, facecolor=CHROME)
